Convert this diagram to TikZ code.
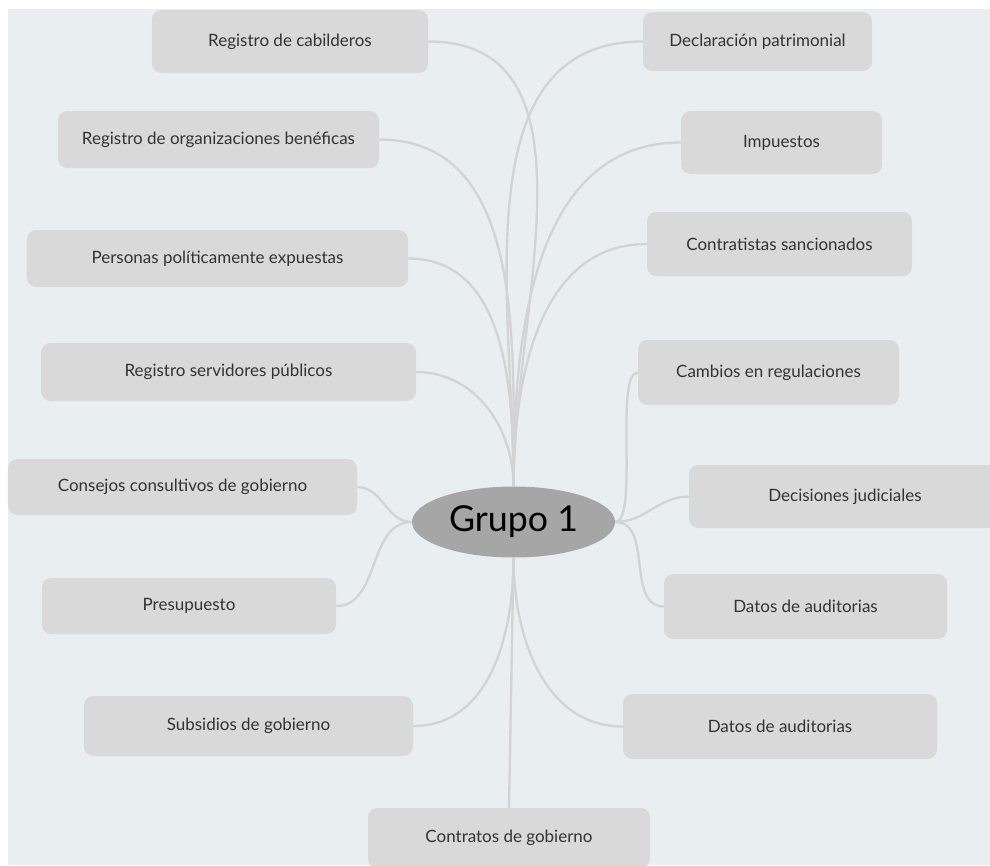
\documentclass[tikz,border=0pt]{standalone}
\usepackage{fontspec}
\setmainfont{Lato}
\usetikzlibrary{shapes.geometric}
\definecolor{bgcol}{HTML}{E9EFF0}
\definecolor{boxcol}{HTML}{D9D9D9}
\definecolor{hubcol}{HTML}{A6A6A6}
\definecolor{linkcol}{HTML}{D3D3D3}
\definecolor{txtcol}{HTML}{333333}
\begin{document}
\begin{tikzpicture}[x=0.03cm,y=-0.03cm,
    box/.style = {fill=boxcol,rounded corners=8pt,inner sep=0pt,text=txtcol,font=\fontsize{14.5}{17}\selectfont},
    hub/.style = {ellipse,fill=hubcol,inner sep=0pt,minimum width=6.09cm,minimum height=2.13cm,text=black,font=\fontsize{30.5}{36}\selectfont},
    link/.style = {draw=linkcol,line width=2pt}]
    \useasboundingbox (0,0) rectangle (990,865);
    \clip (0,0) rectangle (990,865);
    \fill[bgcol] (8,9) rectangle (990,865);

    \node [hub] (grupo) at (513.5,522) {Grupo 1};

    \node [box,minimum width=8.28cm,minimum height=1.89cm] (cab) at (290,41.5) {Registro de cabilderos};
    \node [box,minimum width=9.63cm,minimum height=1.71cm] (org) at (218.5,139.5) {Registro de organizaciones benéficas};
    \node [box,minimum width=11.43cm,minimum height=1.71cm] (pep) at (217.5,258.5) {Personas políticamente expuestas};
    \node [box,minimum width=11.25cm,minimum height=1.74cm] (serv) at (228.5,372) {Registro servidores públicos};
    \node [box,minimum width=10.47cm,minimum height=1.68cm] (cons) at (182.5,487) {Consejos consultivos de gobierno};
    \node [box,minimum width=8.82cm,minimum height=1.68cm] (pres) at (189,606) {Presupuesto};
    \node [box,minimum width=9.87cm,minimum height=1.80cm] (subs) at (248.5,726) {Subsidios de gobierno};
    \node [box,minimum width=8.46cm,minimum height=1.80cm] (contr) at (509,838) {Contratos de gobierno};

    \node [box,minimum width=6.87cm,minimum height=1.77cm] (decl) at (757.5,41.5) {Declaración patrimonial};
    \node [box,minimum width=6.03cm,minimum height=1.89cm] (imp) at (781.5,142.5) {Impuestos};
    \node [box,minimum width=7.95cm,minimum height=1.92cm] (sanc) at (779.5,244) {Contratistas sancionados};
    \node [box,minimum width=7.83cm,minimum height=1.95cm] (camb) at (768.5,372.5) {Cambios en regulaciones};
    \node [box,minimum width=9.36cm,minimum height=1.89cm] (dec) at (845,496.5) {Decisiones judiciales};
    \node [box,minimum width=8.49cm,minimum height=1.95cm] (aud1) at (805.5,606.5) {Datos de auditorias};
    \node [box,minimum width=9.42cm,minimum height=1.95cm] (aud2) at (780,726.5) {Datos de auditorias};

    \draw[link] (cab.east) to[out=0,in=90] (grupo.north);
    \draw[link] (org.east) to[out=0,in=90] (grupo.north);
    \draw[link] (pep.east) to[out=0,in=90] (grupo.north);
    \draw[link] (serv.east) to[out=0,in=90] (grupo.north);
    \draw[link] (decl.west) to[out=180,in=90] (grupo.north);
    \draw[link] (imp.west) to[out=180,in=90] (grupo.north);
    \draw[link] (sanc.west) to[out=180,in=90] (grupo.north);

    \draw[link] (cons.east) to[out=0,in=180] (grupo.west);
    \draw[link] (pres.east) to[out=0,in=180] (grupo.west);

    \draw[link] (camb.west) to[out=180,in=0,looseness=0.4] (grupo.east);
    \draw[link] (dec.west) to[out=180,in=0] (grupo.east);
    \draw[link] (aud1.west) to[out=180,in=0] (grupo.east);

    \draw[link] (subs.east) to[out=0,in=-90] (grupo.south);
    \draw[link] (aud2.west) to[out=180,in=-90] (grupo.south);
    \draw[link] (contr.north) -- (grupo.south);
\end{tikzpicture}
\end{document}
